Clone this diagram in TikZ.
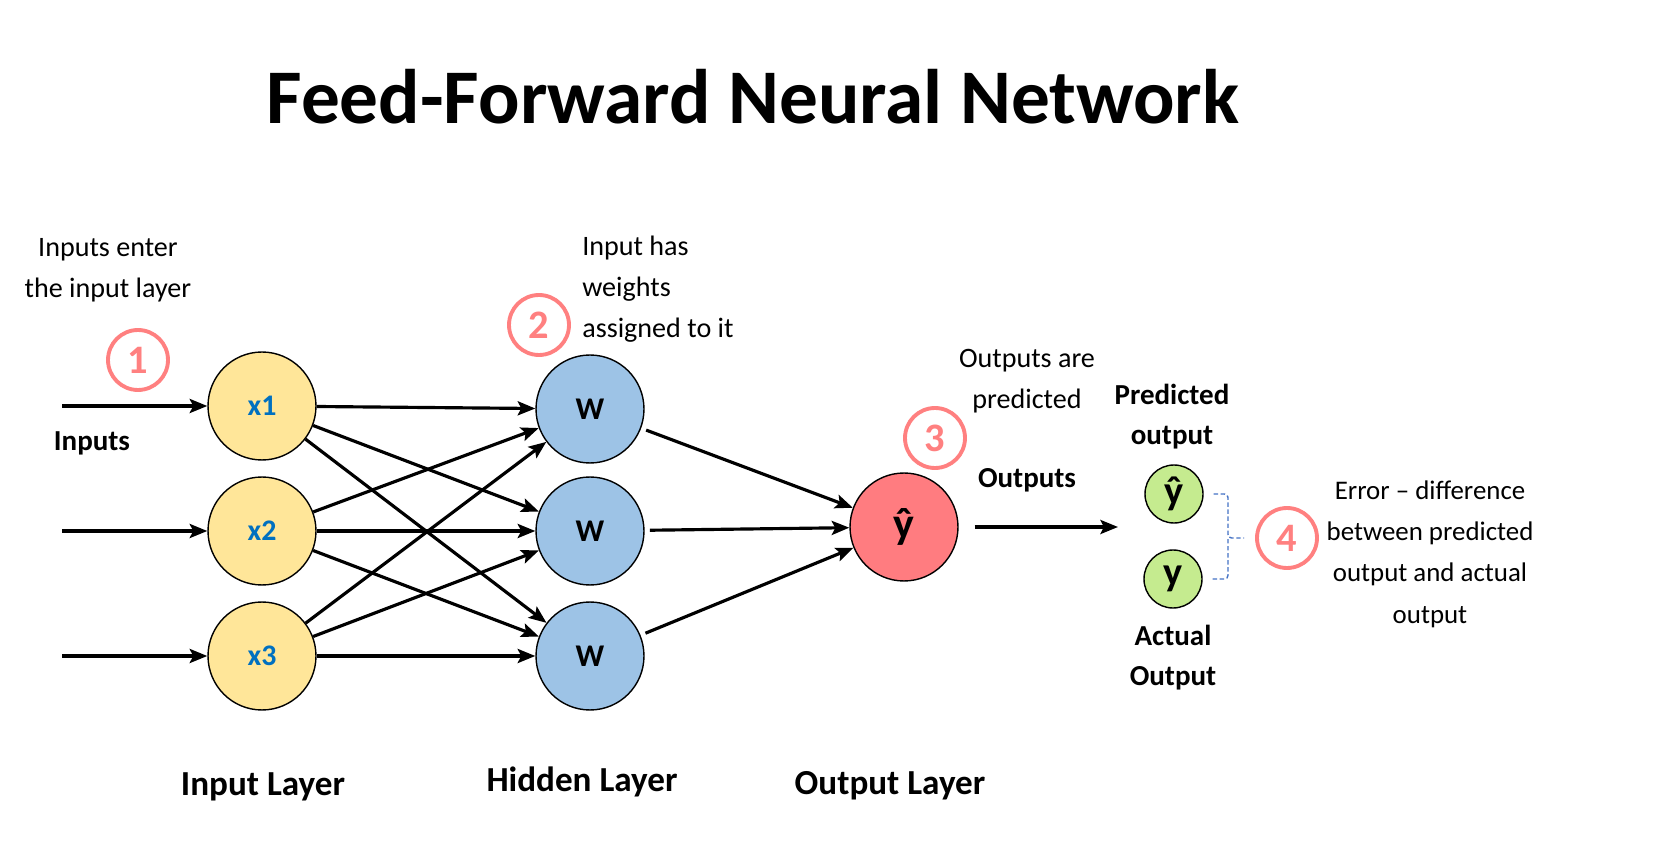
\documentclass[tikz,border=0pt]{standalone}
\usepackage{fontspec}
\setmainfont{Carlito}
\usetikzlibrary{arrows.meta,calc}
\definecolor{inyellow}{HTML}{FFE699}
\definecolor{hidblue}{HTML}{9DC3E6}
\definecolor{outred}{HTML}{FF7C80}
\definecolor{resgreen}{HTML}{C5EB8F}
\definecolor{numpink}{HTML}{FF8080}
\definecolor{xblue}{HTML}{0070C0}
\definecolor{bracecol}{HTML}{4472C4}
\tikzset{
  neuron/.style={circle, draw=black, line width=0.8pt, minimum size=2.16cm, inner sep=0pt},
  inneuron/.style={neuron, fill=inyellow, text=xblue, font=\fontsize{17}{20}\selectfont\bfseries},
  hidneuron/.style={neuron, fill=hidblue, font=\fontsize{18}{20}\selectfont\bfseries},
  outneuron/.style={neuron, fill=outred, font=\fontsize{25}{28}\selectfont\bfseries},
  resneuron/.style={neuron, fill=resgreen, minimum size=1.16cm, font=\fontsize{23}{26}\selectfont\bfseries},
  stepnum/.style={circle, draw=numpink, fill=white, line width=2.2pt, text=numpink, minimum size=1.2cm, inner sep=0pt, font=\fontsize{23}{26}\selectfont\bfseries},
  note/.style={align=center, inner sep=0pt, font=\fontsize{16}{23.5}\selectfont},
  tag/.style={align=center, inner sep=0pt, font=\fontsize{16.5}{22.7}\selectfont\bfseries},
  layername/.style={inner sep=0pt, font=\fontsize{20}{24}\selectfont\bfseries},
  link/.style={line width=1.8pt, -{Stealth[length=10pt,width=8pt,inset=2pt]}},
  errbrace/.style={draw=bracecol, dash pattern=on 2.5pt off 1.5pt, line width=0.8pt, rounded corners=2pt}
}
\begin{document}
\begin{tikzpicture}[x=0.02cm, y=-0.02cm]
\useasboundingbox (0,0) rectangle (1664,864);
% Title
\node[inner sep=0pt, font=\fontsize{44}{50}\selectfont\bfseries] (title) at (753,97) {Feed-Forward Neural Network};

% Define the layers of neurons
\node[inneuron] (x1) at (262,406) {x1};
\node[inneuron] (x2) at (262,531) {x2};
\node[inneuron] (x3) at (262,656) {x3};
\node[hidneuron] (h1) at (590,409) {W};
\node[hidneuron] (h2) at (590,531) {W};
\node[hidneuron] (h3) at (590,656) {W};
\node[outneuron] (yout) at (904,527) {ŷ};
\node[resneuron] (yhat) at (1174,494) {ŷ};
\node[resneuron] (yact) at (1173,579) {y};

% Free ends of the input and output arrows
\coordinate (in1) at (62,406);
\coordinate (in2) at (62,531);
\coordinate (in3) at (62,656);
\coordinate (outend) at (1118,527);
\coordinate (bmid) at (1228,538);

% Numbered steps
\node[stepnum] (one) at (138,360) {1};
\node[stepnum] (two) at (539,325) {2};
\node[stepnum] (three) at (935,438) {3};
\node[stepnum] (four) at (1287,538) {4};

% Connections
\draw[link] (in1) -- (x1);
\draw[link] (in2) -- (x2);
\draw[link] (in3) -- (x3);
\draw[link] (x1) -- (h1);
\draw[link] (x1) -- (h2);
\draw[link] (x1) -- (h3);
\draw[link] (x2) -- (h1);
\draw[link] (x2) -- (h2);
\draw[link] (x2) -- (h3);
\draw[link] (x3) -- (h1);
\draw[link] (x3) -- (h2);
\draw[link] (x3) -- (h3);
\draw[link, shorten <=3pt] (h1) -- (yout);
\draw[link, shorten <=3pt] (h2) -- (yout);
\draw[link, shorten <=3pt] (h3) -- (yout);
\draw[link] ($(yout.east)+(16,0)$) -- (outend);

% Dashed brace between predicted and actual output
\draw[errbrace] ($(yhat.east)+(10,0)$) -| (bmid) -- ($(four.west)+(-11,0)$);
\draw[errbrace] ($(yact.east)+(10,0)$) -| (bmid);

% Labels and notes
\node[note] (enternote) at (108,270) {Inputs enter\\the input layer};
\node[tag] (inputs) at (92,443) {Inputs};
\node[note, align=left, anchor=west] (weightnote) at (582,289) {Input has\\weights\\assigned to it};
\node[note] (prednote) at (1027,381) {Outputs are\\predicted};
\node[tag] (outputs) at (1027,480) {Outputs};
\node[tag] (predlabel) at (1172,417) {Predicted\\output};
\node[tag] (actlabel) at (1173,658) {Actual\\Output};
\node[note, font=\fontsize{15.3}{23.5}\selectfont] (errnote) at (1430,554) {Error -- difference\\between predicted\\output and actual\\output};
\node[layername] (inlayer) at (263,787) {Input Layer};
\node[layername] (hidlayer) at (582,782) {Hidden Layer};
\node[layername] (outlayer) at (890,786) {Output Layer};
\end{tikzpicture}
\end{document}
